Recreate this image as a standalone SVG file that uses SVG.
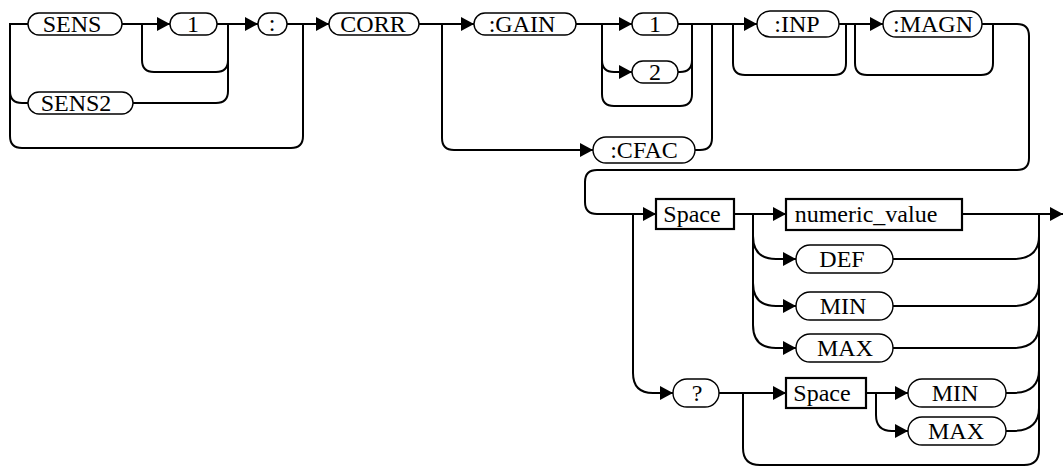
<svg xmlns="http://www.w3.org/2000/svg" width="1064" height="467" viewBox="0 0 1064 467">
<style>
.c{fill:none;stroke:#000;stroke-width:2}
.p{fill:#fff;stroke:#000;stroke-width:1.4}
.b{fill:#fff;stroke:#000;stroke-width:2.2}
text{font-family:'Liberation Serif','Times New Roman',serif;font-size:24px;fill:#000;text-anchor:middle}
</style>
<defs>
<marker id="ah" markerUnits="userSpaceOnUse" markerWidth="13" markerHeight="14" refX="13" refY="7" orient="auto">
<path d="M0,0 L13,7 L0,14 z" fill="#000"/>
</marker>
</defs>
<rect width="1064" height="467" fill="#fff"/>
<g id="connectors" class="c">
<path d="M28,24 H10 V136 Q10,148 22,148 H291 Q303,148 303,136 V24"/>
<path d="M10,91 Q10,103 22,103 H28"/>
<path d="M122,24 H170" marker-end="url(#ah)"/>
<path d="M142,24 V60 Q142,72 154,72 H216 Q228,72 228,60"/>
<path d="M133,103 H216 Q228,103 228,91 V24"/>
<path d="M217,24 H258" marker-end="url(#ah)"/>
<path d="M287,24 H329" marker-end="url(#ah)"/>
<path d="M419,24 H474" marker-end="url(#ah)"/>
<path d="M442,24 V138 Q442,150 454,150 H593" marker-end="url(#ah)"/>
<path d="M576,24 H632" marker-end="url(#ah)"/>
<path d="M602,24 V60 Q602,72 614,72 H632" marker-end="url(#ah)"/>
<path d="M602,60 V94 Q602,106 614,106 H680 Q692,106 692,94 V24"/>
<path d="M678,72 H680 Q692,72 692,60"/>
<path d="M695,150 H700 Q712,150 712,138 V24"/>
<path d="M678,24 H757" marker-end="url(#ah)"/>
<path d="M733,24 V63 Q733,75 745,75 H834 Q846,75 846,63 V24"/>
<path d="M839,24 H883" marker-end="url(#ah)"/>
<path d="M855,24 V63 Q855,75 867,75 H981 Q993,75 993,63 V24"/>
<path d="M982,24 H1017 Q1029,24 1029,36 V158 Q1029,170 1017,170 H597 Q585,170 585,182 V202 Q585,214 597,214 H656" marker-end="url(#ah)"/>
<path d="M633,214 V373 Q633,393 653,393 H673" marker-end="url(#ah)"/>
<path d="M734,214 H786" marker-end="url(#ah)"/>
<path d="M753,214 V325 Q753,348 776,348 H796" marker-end="url(#ah)"/>
<path d="M753,236 Q753,259 776,259 H796" marker-end="url(#ah)"/>
<path d="M753,283 Q753,306 776,306 H796" marker-end="url(#ah)"/>
<path d="M962,214 H1063" marker-end="url(#ah)"/>
<path d="M1039,214 V450 Q1039,465 1024,465 H760 Q743,465 743,448 V393"/>
<path d="M893,259 H1013 Q1039,259 1039,236"/>
<path d="M893,306 H1013 Q1039,306 1039,283"/>
<path d="M893,348 H1013 Q1039,348 1039,325"/>
<path d="M719,393 H786" marker-end="url(#ah)"/>
<path d="M866,393 H908" marker-end="url(#ah)"/>
<path d="M876,393 V415 Q876,431 892,431 H908" marker-end="url(#ah)"/>
<path d="M1006,393 H1012 Q1039,393 1039,370"/>
<path d="M1006,431 H1012 Q1039,431 1039,408"/>
</g>
<g font-family="Liberation Serif, serif">
<g id="n-sens"><rect class="p" x="28" y="13" width="94" height="22" rx="11"/><text x="72" y="32">SENS</text></g>
<g id="n-1a"><rect class="p" x="170" y="13" width="47" height="22" rx="11"/><text x="193" y="32">1</text></g>
<g id="n-colon"><rect class="p" x="258" y="13" width="29" height="22" rx="11"/><text x="272" y="31">:</text></g>
<g id="n-sens2"><rect class="p" x="28" y="92" width="105" height="22" rx="11"/><text x="76" y="111">SENS2</text></g>
<g id="n-corr"><rect class="p" x="329" y="13" width="90" height="22" rx="11"/><text x="373" y="32">CORR</text></g>
<g id="n-gain"><rect class="p" x="474" y="13" width="102" height="22" rx="11"/><text x="522" y="32">:GAIN</text></g>
<g id="n-1b"><rect class="p" x="632" y="13" width="46" height="22" rx="11"/><text x="655" y="32">1</text></g>
<g id="n-2"><rect class="p" x="632" y="61" width="46" height="22" rx="11"/><text x="655" y="80">2</text></g>
<g id="n-cfac"><rect class="p" x="593" y="137" width="102" height="26" rx="13"/><text x="644" y="158">:CFAC</text></g>
<g id="n-inp"><rect class="p" x="757" y="11" width="82" height="26" rx="13"/><text x="797" y="32">:INP</text></g>
<g id="n-magn"><rect class="p" x="883" y="11" width="99" height="26" rx="13"/><text x="933" y="32">:MAGN</text></g>
<g id="n-space1"><rect class="b" x="656" y="199" width="78" height="30"/><text x="692" y="222">Space</text></g>
<g id="n-numeric"><rect class="b" x="786" y="199" width="176" height="31"/><text x="866" y="222">numeric_value</text></g>
<g id="n-def"><rect class="p" x="796" y="245" width="97" height="28" rx="14"/><text x="842" y="267">DEF</text></g>
<g id="n-min1"><rect class="p" x="796" y="292" width="97" height="28" rx="14"/><text x="843" y="314">MIN</text></g>
<g id="n-max1"><rect class="p" x="796" y="334" width="97" height="28" rx="14"/><text x="845" y="356">MAX</text></g>
<g id="n-query"><rect class="p" x="673" y="379" width="46" height="28" rx="14"/><text x="697" y="401">?</text></g>
<g id="n-space2"><rect class="b" x="786" y="378" width="80" height="30"/><text x="822" y="401">Space</text></g>
<g id="n-min2"><rect class="p" x="908" y="379" width="98" height="28" rx="14"/><text x="955" y="401">MIN</text></g>
<g id="n-max2"><rect class="p" x="908" y="417" width="98" height="28" rx="14"/><text x="956" y="439">MAX</text></g>
</g>
</svg>
